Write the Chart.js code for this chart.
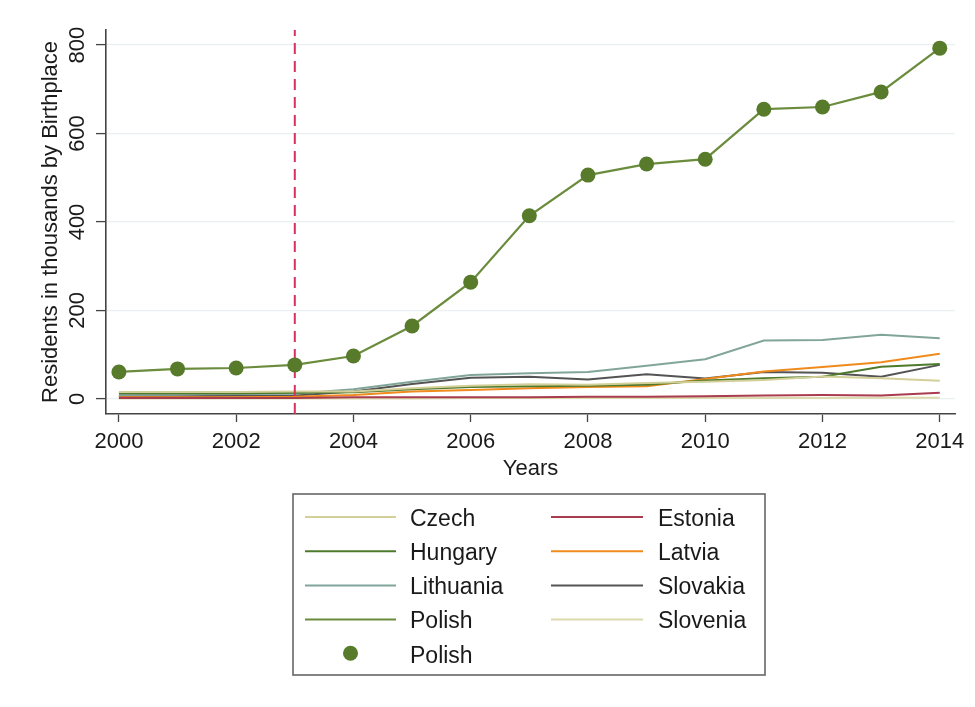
<!DOCTYPE html>
<html>
<head>
<meta charset="utf-8">
<script src="https://cdn.jsdelivr.net/npm/chart.js@4.4.1/dist/chart.umd.min.js"></script>
<style>
  html, body { margin: 0; padding: 0; background: #ffffff; }
  #wrap { width: 975px; height: 707px; position: relative; }
</style>
</head>
<body>
<div id="wrap"><canvas id="c" width="975" height="707"></canvas></div>
<script>
// ---------------- DATA ----------------
const years = [2000, 2001, 2002, 2003, 2004, 2005, 2006, 2007, 2008, 2009, 2010, 2011, 2012, 2013, 2014];

const czech     = [16, 16, 16, 17, 17, 24, 30, 33, 32, 36, 39, 43, 51, 47, 41];
const estonia   = [2, 2, 2, 2, 4, 4, 4, 4, 5, 5, 6, 8, 9, 8, 14];
const hungary   = [13, 13, 13, 14, 15, 22, 27, 29, 30, 32, 42, 47, 50, 73, 79];
const latvia    = [4, 4, 4, 5, 9, 17, 20, 24, 27, 29, 45, 62, 72, 83, 102];
const lithuania = [9, 10, 11, 12, 22, 39, 54, 58, 61, 75, 90, 132, 133, 145, 137];
const slovakia  = [6, 6, 7, 8, 17, 34, 48, 50, 44, 56, 46, 61, 59, 50, 77];
const polish    = [61, 68, 70, 77, 97, 165, 264, 414, 506, 531, 542, 655, 660, 694, 793];
const slovenia  = [1, 1, 1, 1, 1, 1, 2, 2, 2, 2, 2, 2, 2, 3, 3];

const dividerYear = 2003;

const xTickLabels = [2000, 2002, 2004, 2006, 2008, 2010, 2012, 2014];
const yTickLabels = [0, 200, 400, 600, 800];

const xTitle = 'Years';
const yTitle = 'Residents in thousands by Birthplace';

// legend rows (row-major, two columns)
const legendRows = [
  ['Czech', 'Estonia'],
  ['Hungary', 'Latvia'],
  ['Lithuania', 'Slovakia'],
  ['Polish', 'Slovenia'],
  ['Polish (markers)', null]
];

// ---------------- STYLE ----------------
const FONT = "'Liberation Sans', Arial, Helvetica, sans-serif";
const TEXT = '#1a1a1a';
const colors = {
  'Czech': '#d3cf98',
  'Estonia': '#a93c4e',
  'Hungary': '#4e7a2c',
  'Latvia': '#f08a1c',
  'Lithuania': '#82a59b',
  'Slovakia': '#545454',
  'Polish': '#6a8c3c',
  'Polish (markers)': '#577b2b',
  'Slovenia': '#dcd9ad'
};

function pts(arr) { return years.map((y, i) => ({ x: y, y: arr[i] })); }

function lineDs(label, arr) {
  return {
    label: label,
    data: pts(arr),
    borderColor: colors[label],
    backgroundColor: colors[label],
    borderWidth: 2,
    pointRadius: 0,
    tension: 0,
    fill: false
  };
}

const Y_MIN = -34, Y_MAX = 834;

const datasets = [
  {
    label: 'Polish (markers)',
    data: pts(polish),
    showLine: false,
    pointRadius: 7.5,
    pointHoverRadius: 7.5,
    pointBorderWidth: 0,
    pointBackgroundColor: colors['Polish (markers)'],
    borderColor: colors['Polish (markers)'],
    backgroundColor: colors['Polish (markers)']
  },
  Object.assign(lineDs('Polish', polish), { borderWidth: 2.2 }),
  {
    label: 'divider',
    data: [{ x: dividerYear, y: Y_MIN }, { x: dividerYear, y: Y_MAX }],
    borderColor: '#d8305f',
    borderWidth: 2,
    borderDash: [11, 7],
    pointRadius: 0,
    fill: false
  },
  lineDs('Czech', czech),
  lineDs('Estonia', estonia),
  lineDs('Hungary', hungary),
  lineDs('Latvia', latvia),
  lineDs('Lithuania', lithuania),
  lineDs('Slovakia', slovakia),
  lineDs('Slovenia', slovenia)
];

// ---------------- LEGEND PLUGIN ----------------
const legendPlugin = {
  id: 'stataLegend',
  afterDraw(chart) {
    const ctx = chart.ctx;
    const box = { x: 293, y: 494, w: 472, h: 181 };
    ctx.save();
    ctx.strokeStyle = '#666666';
    ctx.lineWidth = 1.6;
    ctx.strokeRect(box.x, box.y, box.w, box.h);

    const cols = [
      { lx0: 305, lx1: 396, tx: 410 },
      { lx0: 551, lx1: 643, tx: 658 }
    ];
    const rowY0 = 518.5, rowDy = 34.2;
    ctx.font = '23px ' + FONT;
    ctx.textBaseline = 'middle';
    ctx.textAlign = 'left';
    legendRows.forEach((row, r) => {
      const y = rowY0 + r * rowDy;
      row.forEach((label, c) => {
        if (!label) return;
        const col = cols[c];
        const ds = chart.data.datasets.find(d => d.label === label);
        if (label === 'Polish (markers)') {
          ctx.fillStyle = ds.pointBackgroundColor;
          ctx.beginPath();
          ctx.arc((col.lx0 + col.lx1) / 2, y - 2, 7.5, 0, Math.PI * 2);
          ctx.fill();
        } else {
          ctx.strokeStyle = ds.borderColor;
          ctx.lineWidth = 2;
          ctx.beginPath();
          ctx.moveTo(col.lx0, y - 1.5);
          ctx.lineTo(col.lx1, y - 1.5);
          ctx.stroke();
        }
        ctx.fillStyle = TEXT;
        ctx.fillText(label.replace(' (markers)', ''), col.tx, y + 1);
      });
    });
    ctx.restore();
  }
};

const bgPlugin = {
  id: 'bg',
  beforeDraw(chart) {
    const ctx = chart.ctx;
    ctx.save();
    ctx.fillStyle = '#ffffff';
    ctx.fillRect(0, 0, chart.width, chart.height);
    ctx.restore();
  }
};

// ---------------- CHART ----------------
new Chart(document.getElementById('c'), {
  type: 'line',
  data: { datasets: datasets },
  plugins: [bgPlugin, legendPlugin],
  options: {
    responsive: false,
    animation: false,
    events: [],
    layout: { padding: { left: 0, right: 20, top: 30, bottom: 218 } },
    plugins: {
      legend: { display: false },
      tooltip: { enabled: false }
    },
    scales: {
      x: {
        type: 'linear',
        min: 1999.78,
        max: 2014.26,
        afterBuildTicks(scale) { scale.ticks = xTickLabels.map(v => ({ value: v })); },
        afterFit(scale) { scale.height = 75; },
        ticks: {
          autoSkip: false,
          maxRotation: 0,
          minRotation: 0,
          padding: 7,
          color: TEXT,
          font: { family: FONT, size: 22 },
          callback: v => String(v)
        },
        grid: {
          drawOnChartArea: false,
          drawTicks: true,
          tickLength: 8,
          tickColor: '#444444',
          tickWidth: 1.3
        },
        border: { display: true, color: '#444444', width: 1.6 },
        title: {
          display: true,
          text: xTitle,
          color: TEXT,
          font: { family: FONT, size: 22 },
          padding: { top: 0, bottom: 7 }
        }
      },
      y: {
        type: 'linear',
        min: Y_MIN,
        max: Y_MAX,
        afterBuildTicks(scale) { scale.ticks = yTickLabels.map(v => ({ value: v })); },
        afterFit(scale) { scale.width = 106; },
        ticks: {
          autoSkip: false,
          minRotation: 90,
          maxRotation: 90,
          crossAlign: 'center',
          padding: 0,
          color: TEXT,
          font: { family: FONT, size: 22 },
          callback: v => String(v)
        },
        grid: {
          drawOnChartArea: true,
          drawTicks: true,
          tickLength: 10,
          color: '#e8f0f1',
          lineWidth: 1.2,
          tickColor: '#444444',
          tickWidth: 1.3
        },
        border: { display: true, color: '#444444', width: 1.6 },
        title: {
          display: true,
          text: yTitle,
          color: TEXT,
          font: { family: FONT, size: 22 },
          padding: { top: 38, bottom: 0 }
        }
      }
    }
  }
});
</script>
</body>
</html>
